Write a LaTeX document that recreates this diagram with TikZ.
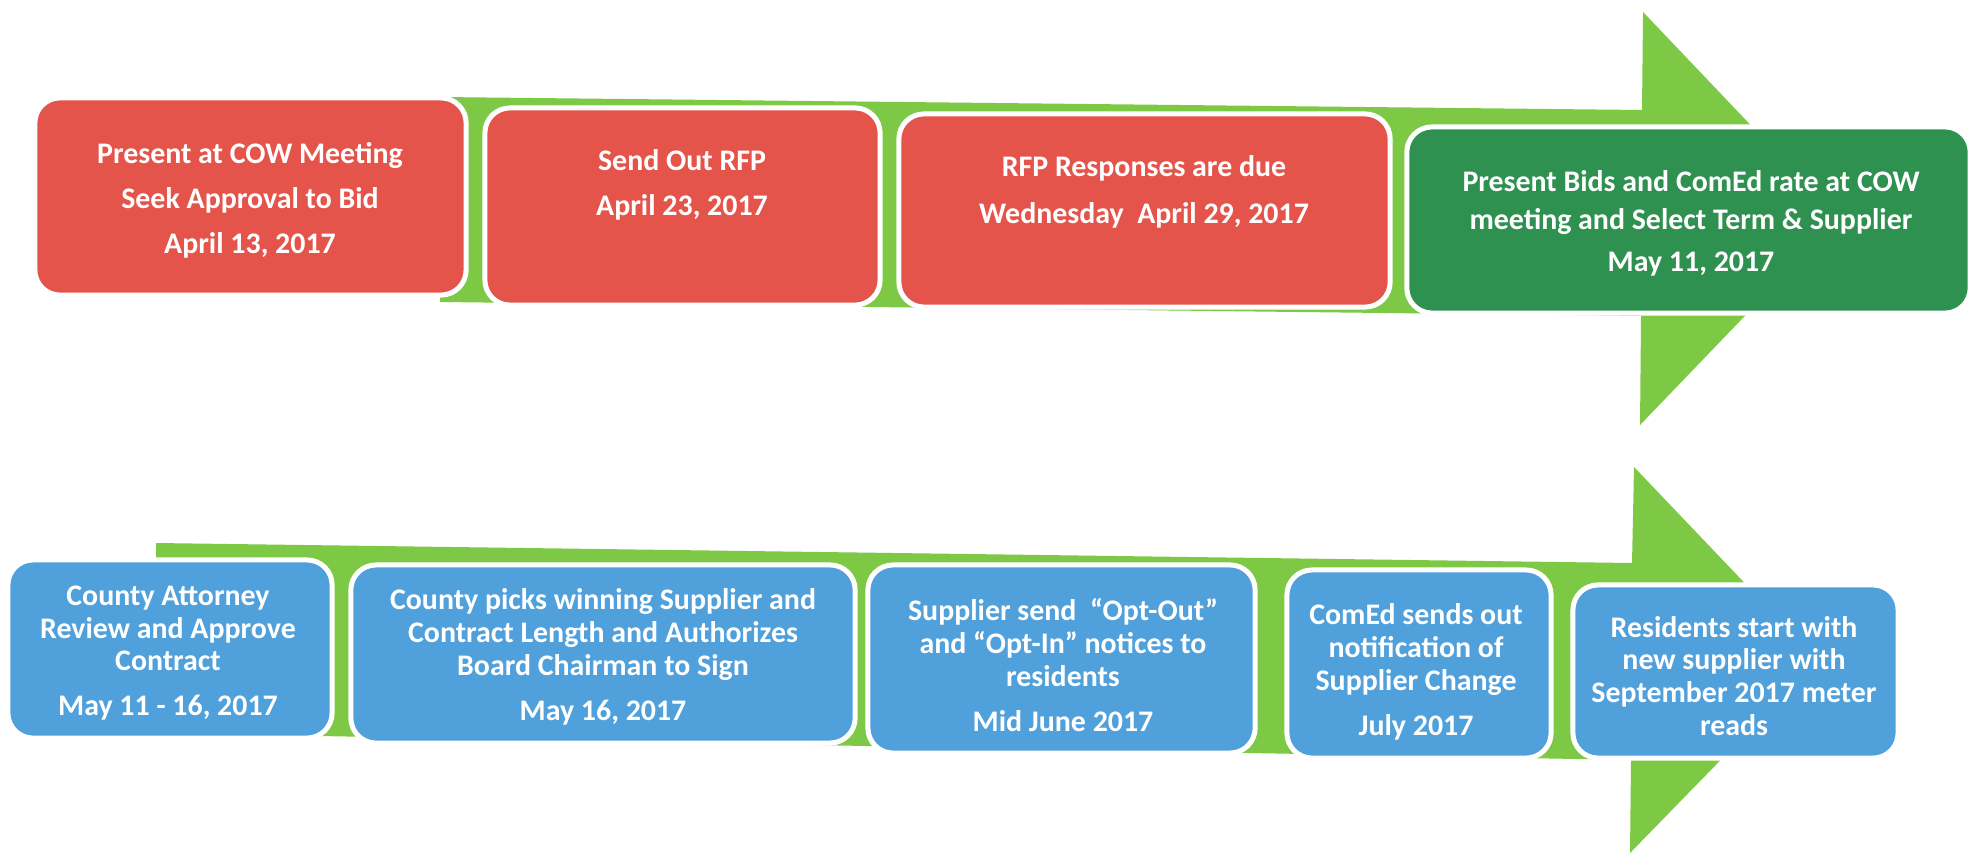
\documentclass[tikz,border=0pt]{standalone}
\usepackage{fontspec}
\setmainfont{Carlito}
\definecolor{arrowgreen}{RGB}{125,201,69}
\definecolor{boxred}{RGB}{229,84,74}
\definecolor{boxgreen}{RGB}{47,145,80}
\definecolor{boxblue}{RGB}{80,160,220}
\begin{document}
\begin{tikzpicture}[x=0.01cm,y=-0.01cm,
  box/.style={draw=white, line width=0.05cm, rounded corners=0.25cm, inner sep=0pt},
  txt/.style={text=white, font=\fontsize{8.5}{9.36}\selectfont\bfseries, align=center, inner sep=0pt}]
\useasboundingbox (0,0) rectangle (1983,855);
\fill[white] (0,0) rectangle (1983,855);

% top arrow
\fill[arrowgreen] (440,97) -- (1642,110) -- (1643,12) -- (1839,218) -- (1640,425) -- (1641,316) -- (440,302) -- cycle;
% bottom arrow
\fill[arrowgreen] (156,543) -- (1632,563) -- (1634,467) -- (1818,660) -- (1630,853) -- (1631,760) -- (156,733) -- cycle;

% top row
\node[box, fill=boxred, minimum width=4.31cm, minimum height=1.97cm] (t1) at (250.5,196.5) {};
\node[box, fill=boxred, minimum width=3.95cm, minimum height=1.97cm] (t2) at (682.5,206.5) {};
\node[box, fill=boxred, minimum width=4.91cm, minimum height=1.93cm] (t3) at (1144.5,210.5) {};
\node[box, fill=boxgreen, minimum width=5.63cm, minimum height=1.86cm] (t4) at (1688.5,220) {};

\node[txt] (t1x) at (250,200) {Present at COW Meeting\\[3.4pt]Seek Approval to Bid\\[3.4pt]April 13, 2017};
\node[txt] (t2x) at (682,185) {Send Out RFP\\[3.4pt]April 23, 2017};
\node[txt] (t3x) at (1144,192) {RFP Responses are due\\[4.2pt]Wednesday\ \ April 29, 2017};
\node[txt] (t4x) at (1691,223) {Present Bids and ComEd rate at COW\\[1.4pt]meeting and Select Term \& Supplier\\[2.6pt]May 11, 2017};

% bottom row
\node[box, fill=boxblue, minimum width=3.24cm, minimum height=1.78cm] (b1) at (170,649) {};
\node[box, fill=boxblue, minimum width=5.04cm, minimum height=1.78cm] (b2) at (603,654) {};
\node[box, fill=boxblue, minimum width=3.87cm, minimum height=1.88cm] (b3) at (1061.5,659) {};
\node[box, fill=boxblue, minimum width=2.64cm, minimum height=1.88cm] (b4) at (1419,664) {};
\node[box, fill=boxblue, minimum width=3.25cm, minimum height=1.73cm] (b5) at (1735.5,671.5) {};

\node[txt] (b1x) at (168,653) {County Attorney\\Review and Approve\\Contract\\[3.4pt]May 11 - 16, 2017};
\node[txt] (b2x) at (603,657) {County picks winning Supplier and\\Contract Length and Authorizes\\Board Chairman to Sign\\[3.4pt]May 16, 2017};
\node[txt] (b3x) at (1063,665) {Supplier send\ \ “Opt-Out”\\and “Opt-In” notices to\\residents\\[3.4pt]Mid June 2017};
\node[txt] (b4x) at (1416,672) {ComEd sends out\\notification of\\Supplier Change\\[3.4pt]July 2017};
\node[txt] (b5x) at (1734,676) {Residents start with\\new supplier with\\September 2017 meter\\reads};
\end{tikzpicture}
\end{document}
